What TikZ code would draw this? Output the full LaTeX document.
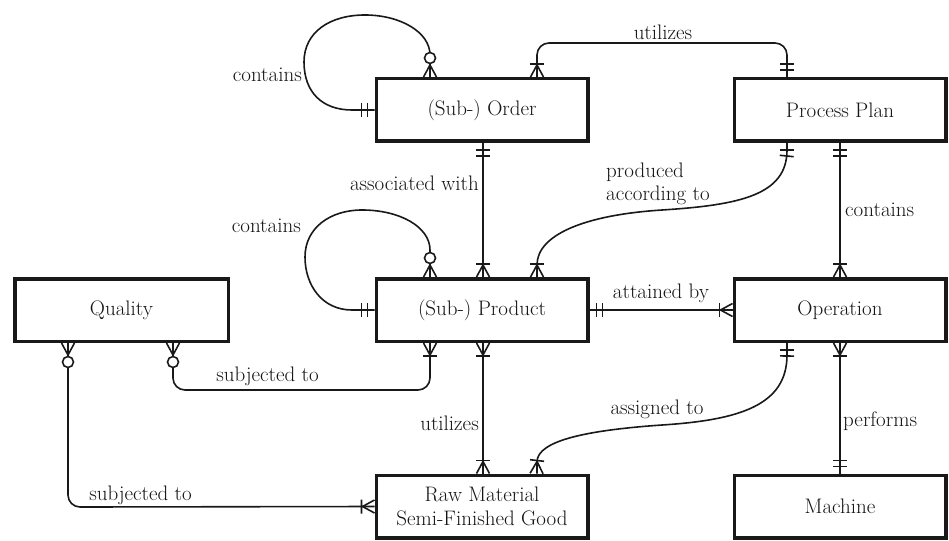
\documentclass[tikz,border=0pt]{standalone}
\usepackage{fontspec}
\usetikzlibrary{decorations.markings}

\tikzset{
  txt/.style={font=\fontsize{21}{24}\selectfont, text=black!92},
  entity/.style={txt, draw=black!90, line width=3.5pt, minimum width=211.5pt,
    minimum height=62.5pt, inner sep=0pt, align=center},
  rel/.style={draw=black!90, line width=1.6pt},
  lbl/.style={txt, inner sep=0pt},
  tick/.style={draw=black!90, line width=1.6pt},
  % exactly one (two bars) at the start / end of a relationship line
  one start/.style={postaction={decorate,decoration={markings,
    mark=at position 7pt with {\draw[tick] (0pt,-7pt) -- (0pt,7pt);},
    mark=at position 13pt with {\draw[tick] (0pt,-7pt) -- (0pt,7pt);}}}},
  one end/.style={postaction={decorate,decoration={markings,
    mark=at position -7pt with {\draw[tick] (0pt,-7pt) -- (0pt,7pt);},
    mark=at position -13pt with {\draw[tick] (0pt,-7pt) -- (0pt,7pt);}}}},
  % one or many (crow's foot and bar)
  many start/.style={postaction={decorate,decoration={markings,
    mark=at position 12pt with {\draw[tick] (-12pt,-6.5pt) -- (0pt,0pt) -- (-12pt,6.5pt);},
    mark=at position 13pt with {\draw[tick] (0pt,-7pt) -- (0pt,7pt);}}}},
  many end/.style={postaction={decorate,decoration={markings,
    mark=at position -12pt with {\draw[tick] (12pt,-6.5pt) -- (0pt,0pt) -- (12pt,6.5pt);},
    mark=at position -13pt with {\draw[tick] (0pt,-7pt) -- (0pt,7pt);}}}},
  % zero or many (crow's foot and ring)
  zmany start/.style={postaction={decorate,decoration={markings,
    mark=at position 12pt with {\draw[tick] (-12pt,-6.5pt) -- (0pt,0pt) -- (-12pt,6.5pt);},
    mark=at position 19pt with {\draw[tick, fill=white] (0pt,0pt) circle[radius=5.5pt];}}}},
  zmany end/.style={postaction={decorate,decoration={markings,
    mark=at position -12pt with {\draw[tick] (12pt,-6.5pt) -- (0pt,0pt) -- (12pt,6.5pt);},
    mark=at position -19pt with {\draw[tick, fill=white] (0pt,0pt) circle[radius=5.5pt];}}}},
}

\begin{document}
\begin{tikzpicture}[x=1pt, y=-1pt]
\useasboundingbox (0,0) rectangle (949,540);

% entities
\node[entity] (order)   at (482,110)   {(Sub-) Order};
\node[entity] (plan)    at (840,110)   {Process Plan};
\node[entity, minimum width=213.5pt] (quality) at (121.5,310) {Quality};
\node[entity] (product) at (482,310)   {(Sub-) Product};
\node[entity] (oper)    at (840,310)   {Operation};
\node[entity] (raw)     at (482,506.5) {Raw Material\\Semi-Finished Good};
\node[entity] (machine) at (840,506.5) {Machine};

% bends of the orthogonal connectors
\coordinate (u1) at (537,43);
\coordinate (u2) at (787,43);
\coordinate (s1) at (173,390);
\coordinate (s2) at (430,390);
\coordinate (r1) at (68,507);

% order consists of sub-orders
\draw[rel, one start, zmany end] (order.west) -- (352,110)
  .. controls (322,110) and (304,92) .. (304,62)
  .. controls (304,32) and (330,15) .. (365,15)
  .. controls (400,15) and (430,32) .. (430,55)
  -- ([xshift=-52pt]order.north);
\node[lbl, anchor=east] (l1) at (302,75) {contains};

% order utilizes process plan
\draw[rel, many start, one end]
  ([xshift=55pt]order.north) -- ([yshift=-12pt]u1)
  .. controls ([yshift=-5.4pt]u1) and ([xshift=5.4pt]u1) .. ([xshift=12pt]u1)
  -- ([xshift=-12pt]u2)
  .. controls ([xshift=-5.4pt]u2) and ([yshift=-5.4pt]u2) .. ([yshift=-12pt]u2)
  -- ([xshift=-53pt]plan.north);
\node[lbl] (l2) at (663,32) {utilizes};

% order associated with product
\draw[rel, one start, many end] ([xshift=1pt]order.south) -- ([xshift=1pt]product.north);
\node[lbl, anchor=east] (l3) at (479,183) {associated with};

% product produced according to process plan
\draw[rel, one start, many end] ([xshift=-53pt]plan.south) -- (787,150)
  .. controls (787,195) and (740,205) .. (662,210)
  .. controls (584,215) and (537,235) .. (537,265)
  -- ([xshift=55pt]product.north);
\node[lbl, anchor=west, align=left] (l4) at (606,184) {produced\\[-1pt]according to};

% process plan contains operations
\draw[rel, one start, many end] (plan.south) -- (oper.north);
\node[lbl, anchor=west] (l5) at (845,210) {contains};

% product consists of sub-products
\draw[rel, one start, zmany end] (product.west) -- (352,310)
  .. controls (322,310) and (305,285) .. (305,257)
  .. controls (305,228) and (330,210) .. (362,210)
  .. controls (400,210) and (430,227) .. (430,250)
  -- ([xshift=-52pt]product.north);
\node[lbl, anchor=east] (l6) at (301,226) {contains};

% product attained by operation
\draw[rel, one start, many end] (product.east) -- (oper.west);
\node[lbl] (l7) at (661,293) {attained by};

% product subjected to quality
\draw[rel, zmany start, many end]
  ([xshift=51.5pt]quality.south) -- ([yshift=12pt]s1)
  .. controls ([yshift=5.4pt]s1) and ([xshift=5.4pt]s1) .. ([xshift=12pt]s1)
  -- ([xshift=-12pt]s2)
  .. controls ([xshift=-5.4pt]s2) and ([yshift=5.4pt]s2) .. ([yshift=12pt]s2)
  -- ([xshift=-52pt]product.south);
\node[lbl] (l8) at (267.5,376) {subjected to};

% raw material subjected to quality
\draw[rel, zmany start, many end]
  ([xshift=-53.5pt]quality.south) -- ([yshift=12pt]r1)
  .. controls ([yshift=5.4pt]r1) and ([xshift=5.4pt]r1) .. ([xshift=12pt]r1)
  -- (raw.west);
\node[lbl] (l9) at (140.5,495) {subjected to};

% product utilizes raw material
\draw[rel, many start, many end] ([xshift=1pt]product.south) -- ([xshift=1pt]raw.north);
\node[lbl, anchor=east] (l10) at (479,423) {utilizes};

% raw material assigned to operation
\draw[rel, one start, many end] ([xshift=-53pt]oper.south) -- (787,355)
  .. controls (787,405) and (740,420) .. (662,425)
  .. controls (590,430) and (537,440) .. (537,462)
  -- ([xshift=55pt]raw.north);
\node[lbl] (l11) at (657,409) {assigned to};

% machine performs operation
\draw[rel, many start, one end] (oper.south) -- (machine.north);
\node[lbl, anchor=west] (l12) at (843,421) {performs};
\end{tikzpicture}
\end{document}
